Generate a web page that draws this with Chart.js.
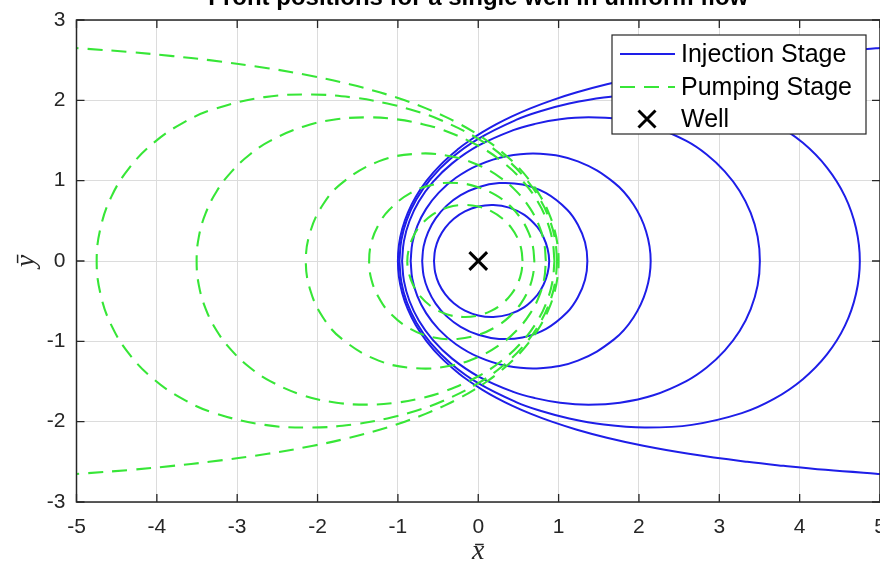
<!DOCTYPE html>
<html>
<head>
<meta charset="utf-8">
<title>Front positions for a single well in uniform flow</title>
<script src="https://cdn.jsdelivr.net/npm/chart.js@4.4.0/dist/chart.umd.min.js"></script>
<style>
  html, body { margin: 0; padding: 0; background: #fff; width: 880px; height: 567px; overflow: hidden; }
  #wrap { position: absolute; left: 0; top: -20px; width: 920px; height: 600px; }
  canvas { display: block; }
</style>
</head>
<body>
<div id="wrap"><canvas id="fronts" width="920" height="600"></canvas></div>
<script>
// Axis ticks
const xTickValues = [-5, -4, -3, -2, -1, 0, 1, 2, 3, 4, 5];
const xTickLabels = ['-5', '-4', '-3', '-2', '-1', '0', '1', '2', '3', '4', '5'];
const yTickValues = [-3, -2, -1, 0, 1, 2, 3];
const yTickLabels = ['-3', '-2', '-1', '0', '1', '2', '3'];

const seriesNames = ['Injection Stage', 'Pumping Stage', 'Well'];
const titleText = 'Front positions for a single well in uniform flow';

// Well location
const wellPosition = [[0, 0]];

// Injection fronts, [x̄, ȳ] around the well, smallest to largest
const injectionFrontA = [[-0.551,0],[-0.536,0.144],[-0.49,0.283],[-0.412,0.412],[-0.304,0.526],[-0.166,0.618],[0,0.678],[0.187,0.697],[0.384,0.665],[0.574,0.574],[0.734,0.424],[0.812,0.296],[0.863,0.152],[0.883,0],[0.863,-0.152],[0.812,-0.296],[0.734,-0.424],[0.574,-0.574],[0.384,-0.665],[0.187,-0.697],[0,-0.678],[-0.166,-0.618],[-0.304,-0.526],[-0.412,-0.412],[-0.49,-0.283],[-0.536,-0.144],[-0.551,0]];
const injectionFrontB = [[-0.698,0],[-0.68,0.182],[-0.624,0.36],[-0.53,0.53],[-0.396,0.686],[-0.219,0.819],[0,0.919],[0.26,0.97],[0.55,0.952],[0.845,0.845],[1.107,0.639],[1.24,0.452],[1.329,0.234],[1.358,0],[1.329,-0.234],[1.24,-0.452],[1.107,-0.639],[0.845,-0.845],[0.55,-0.952],[0.26,-0.97],[0,-0.919],[-0.219,-0.819],[-0.396,-0.686],[-0.53,-0.53],[-0.624,-0.36],[-0.68,-0.182],[-0.698,0]];
const injectionFrontC = [[-0.841,0],[-0.821,0.22],[-0.758,0.437],[-0.649,0.649],[-0.491,0.851],[-0.278,1.036],[0,1.194],[0.35,1.305],[0.771,1.335],[1.24,1.24],[1.69,0.976],[1.932,0.703],[2.089,0.368],[2.146,0],[2.089,-0.368],[1.932,-0.703],[1.69,-0.976],[1.24,-1.24],[0.771,-1.335],[0.35,-1.305],[0,-1.194],[-0.278,-1.036],[-0.491,-0.851],[-0.649,-0.649],[-0.758,-0.437],[-0.821,-0.22],[-0.841,0]];
const injectionFrontD = [[-0.948,0],[-0.925,0.248],[-0.857,0.495],[-0.74,0.74],[-0.566,0.981],[-0.325,1.215],[0,1.435],[0.436,1.629],[0.707,1.707],[1.019,1.764],[1.372,1.788],[1.764,1.764],[2.179,1.672],[2.59,1.495],[2.843,1.326],[3.067,1.116],[3.253,0.872],[3.391,0.598],[3.477,0.304],[3.505,0],[3.477,-0.304],[3.391,-0.598],[3.253,-0.872],[3.067,-1.116],[2.843,-1.326],[2.59,-1.495],[2.179,-1.672],[1.764,-1.764],[1.372,-1.788],[1.019,-1.764],[0.707,-1.707],[0.436,-1.629],[0,-1.435],[-0.325,-1.215],[-0.566,-0.981],[-0.74,-0.74],[-0.857,-0.495],[-0.925,-0.248],[-0.948,0]];
const injectionFrontE = [[-0.981,0],[-0.958,0.257],[-0.889,0.513],[-0.769,0.769],[-0.591,1.023],[-0.342,1.275],[0,1.521],[0.47,1.756],[0.772,1.864],[1.132,1.96],[1.562,2.036],[2.073,2.073],[2.658,2.04],[3.28,1.894],[3.68,1.717],[4.04,1.471],[4.34,1.163],[4.564,0.805],[4.701,0.411],[4.749,0],[4.701,-0.411],[4.564,-0.805],[4.34,-1.163],[4.04,-1.471],[3.68,-1.717],[3.28,-1.894],[2.658,-2.04],[2.073,-2.073],[1.562,-2.036],[1.132,-1.96],[0.772,-1.864],[0.47,-1.756],[0,-1.521],[-0.342,-1.275],[-0.591,-1.023],[-0.769,-0.769],[-0.889,-0.513],[-0.958,-0.257],[-0.981,0]];
const injectionFrontF = [[5.16,2.66],[4.95,2.647],[4.322,2.6],[3.801,2.55],[3.347,2.5],[2.62,2.4],[2.055,2.3],[1.601,2.2],[1.228,2.1],[0.915,2.0],[0.649,1.9],[0.42,1.8],[0.221,1.7],[0.047,1.6],[-0.106,1.5],[-0.242,1.4],[-0.467,1.2],[-0.642,1.0],[-0.777,0.8],[-0.877,0.6],[-0.946,0.4],[-0.987,0.2],[-1.0,0],[-0.987,-0.2],[-0.946,-0.4],[-0.877,-0.6],[-0.777,-0.8],[-0.642,-1.0],[-0.467,-1.2],[-0.242,-1.4],[-0.106,-1.5],[0.047,-1.6],[0.221,-1.7],[0.42,-1.8],[0.649,-1.9],[0.915,-2.0],[1.228,-2.1],[1.601,-2.2],[2.055,-2.3],[2.62,-2.4],[3.347,-2.5],[3.801,-2.55],[4.322,-2.6],[4.95,-2.647],[5.16,-2.66]];

// Pumping fronts, [x̄, ȳ], smallest to largest
const pumpingFrontA = [[0.551,0],[0.536,0.144],[0.49,0.283],[0.412,0.412],[0.304,0.526],[0.166,0.618],[0,0.678],[-0.187,0.697],[-0.384,0.665],[-0.574,0.574],[-0.734,0.424],[-0.812,0.296],[-0.863,0.152],[-0.883,0],[-0.863,-0.152],[-0.812,-0.296],[-0.734,-0.424],[-0.574,-0.574],[-0.384,-0.665],[-0.187,-0.697],[0,-0.678],[0.166,-0.618],[0.304,-0.526],[0.412,-0.412],[0.49,-0.283],[0.536,-0.144],[0.551,0]];
const pumpingFrontB = [[0.698,0],[0.68,0.182],[0.624,0.36],[0.53,0.53],[0.396,0.686],[0.219,0.819],[0,0.919],[-0.26,0.97],[-0.55,0.952],[-0.845,0.845],[-1.107,0.639],[-1.24,0.452],[-1.329,0.234],[-1.358,0],[-1.329,-0.234],[-1.24,-0.452],[-1.107,-0.639],[-0.845,-0.845],[-0.55,-0.952],[-0.26,-0.97],[0,-0.919],[0.219,-0.819],[0.396,-0.686],[0.53,-0.53],[0.624,-0.36],[0.68,-0.182],[0.698,0]];
const pumpingFrontC = [[0.841,0],[0.821,0.22],[0.758,0.437],[0.649,0.649],[0.491,0.851],[0.278,1.036],[0,1.194],[-0.35,1.305],[-0.771,1.335],[-1.24,1.24],[-1.69,0.976],[-1.932,0.703],[-2.089,0.368],[-2.146,0],[-2.089,-0.368],[-1.932,-0.703],[-1.69,-0.976],[-1.24,-1.24],[-0.771,-1.335],[-0.35,-1.305],[0,-1.194],[0.278,-1.036],[0.491,-0.851],[0.649,-0.649],[0.758,-0.437],[0.821,-0.22],[0.841,0]];
const pumpingFrontD = [[0.948,0],[0.925,0.248],[0.857,0.495],[0.74,0.74],[0.566,0.981],[0.325,1.215],[0,1.435],[-0.436,1.629],[-0.707,1.707],[-1.019,1.764],[-1.372,1.788],[-1.764,1.764],[-2.179,1.672],[-2.59,1.495],[-2.843,1.326],[-3.067,1.116],[-3.253,0.872],[-3.391,0.598],[-3.477,0.304],[-3.505,0],[-3.477,-0.304],[-3.391,-0.598],[-3.253,-0.872],[-3.067,-1.116],[-2.843,-1.326],[-2.59,-1.495],[-2.179,-1.672],[-1.764,-1.764],[-1.372,-1.788],[-1.019,-1.764],[-0.707,-1.707],[-0.436,-1.629],[0,-1.435],[0.325,-1.215],[0.566,-0.981],[0.74,-0.74],[0.857,-0.495],[0.925,-0.248],[0.948,0]];
const pumpingFrontE = [[0.981,0],[0.958,0.257],[0.889,0.513],[0.769,0.769],[0.591,1.023],[0.342,1.275],[0,1.521],[-0.47,1.756],[-0.772,1.864],[-1.132,1.96],[-1.562,2.036],[-2.073,2.073],[-2.658,2.04],[-3.28,1.894],[-3.68,1.717],[-4.04,1.471],[-4.34,1.163],[-4.564,0.805],[-4.701,0.411],[-4.749,0],[-4.701,-0.411],[-4.564,-0.805],[-4.34,-1.163],[-4.04,-1.471],[-3.68,-1.717],[-3.28,-1.894],[-2.658,-2.04],[-2.073,-2.073],[-1.562,-2.036],[-1.132,-1.96],[-0.772,-1.864],[-0.47,-1.756],[0,-1.521],[0.342,-1.275],[0.591,-1.023],[0.769,-0.769],[0.889,-0.513],[0.958,-0.257],[0.981,0]];
const pumpingFrontF = [[-5.16,2.66],[-4.95,2.647],[-4.322,2.6],[-3.801,2.55],[-3.347,2.5],[-2.62,2.4],[-2.055,2.3],[-1.601,2.2],[-1.228,2.1],[-0.915,2.0],[-0.649,1.9],[-0.42,1.8],[-0.221,1.7],[-0.047,1.6],[0.106,1.5],[0.242,1.4],[0.467,1.2],[0.642,1.0],[0.777,0.8],[0.877,0.6],[0.946,0.4],[0.987,0.2],[1.0,0],[0.987,-0.2],[0.946,-0.4],[0.877,-0.6],[0.777,-0.8],[0.642,-1.0],[0.467,-1.2],[0.242,-1.4],[0.106,-1.5],[-0.047,-1.6],[-0.221,-1.7],[-0.42,-1.8],[-0.649,-1.9],[-0.915,-2.0],[-1.228,-2.1],[-1.601,-2.2],[-2.055,-2.3],[-2.62,-2.4],[-3.347,-2.5],[-3.801,-2.55],[-4.322,-2.6],[-4.95,-2.647],[-5.16,-2.66]];

const injectionFronts = [injectionFrontA, injectionFrontB, injectionFrontC, injectionFrontD, injectionFrontE, injectionFrontF];
const pumpingFronts = [pumpingFrontA, pumpingFrontB, pumpingFrontC, pumpingFrontD, pumpingFrontE, pumpingFrontF];

// Styles
const BLUE = 'rgb(30,30,232)';
const GREEN = 'rgb(55,230,55)';
const DASH = [15, 9];
const INK = '#262626';
const SANS = '"Liberation Sans", Arial, Helvetica, sans-serif';

const toPoints = arr => arr.map(([x, y]) => ({ x, y }));

const datasets = [];
datasets.push({
  label: seriesNames[2],
  data: toPoints(wellPosition),
  showLine: false,
  pointStyle: 'crossRot',
  pointRadius: 12.5,
  pointBorderWidth: 3,
  borderColor: '#000',
  backgroundColor: '#000'
});
pumpingFronts.forEach(f => datasets.push({
  label: seriesNames[1],
  data: toPoints(f),
  showLine: true,
  borderColor: GREEN,
  borderWidth: 2.1,
  borderDash: DASH,
  pointRadius: 0,
  tension: 0.4,
  fill: false
}));
injectionFronts.forEach(f => datasets.push({
  label: seriesNames[0],
  data: toPoints(f),
  showLine: true,
  borderColor: BLUE,
  borderWidth: 2,
  pointRadius: 0,
  tension: 0.4,
  fill: false
}));

// Axes box, inward ticks, tick labels, axis labels, title and legend
const decorations = {
  id: 'decorations',
  afterDatasetsDraw(chart) {
    const { ctx, chartArea: a, scales } = chart;
    const sx = scales.x, sy = scales.y;
    ctx.save();

    // box and ticks
    ctx.strokeStyle = INK;
    ctx.lineWidth = 1.5;
    ctx.strokeRect(a.left, a.top, a.right - a.left, a.bottom - a.top);
    ctx.lineWidth = 1.3;
    ctx.beginPath();
    xTickValues.forEach(v => {
      const px = sx.getPixelForValue(v);
      ctx.moveTo(px, a.bottom); ctx.lineTo(px, a.bottom - 8);
      ctx.moveTo(px, a.top); ctx.lineTo(px, a.top + 8);
    });
    yTickValues.forEach(v => {
      const py = sy.getPixelForValue(v);
      ctx.moveTo(a.left, py); ctx.lineTo(a.left + 8, py);
      ctx.moveTo(a.right, py); ctx.lineTo(a.right - 8, py);
    });
    ctx.stroke();

    // tick labels
    ctx.fillStyle = INK;
    ctx.font = '21px ' + SANS;
    ctx.textAlign = 'center';
    ctx.textBaseline = 'middle';
    xTickValues.forEach((v, i) => ctx.fillText(xTickLabels[i], sx.getPixelForValue(v), a.bottom + 25));
    ctx.textAlign = 'right';
    yTickValues.forEach((v, i) => ctx.fillText(yTickLabels[i], a.left - 11, sy.getPixelForValue(v)));

    // axis labels
    ctx.font = 'italic 28px "Liberation Serif", "DejaVu Serif", serif';
    ctx.textAlign = 'center';
    ctx.fillText('x\u0304', (a.left + a.right) / 2, a.bottom + 50);
    ctx.save();
    ctx.translate(27, sy.getPixelForValue(0));
    ctx.rotate(-Math.PI / 2);
    ctx.fillText('y\u0304', 0, 0);
    ctx.restore();

    // title
    ctx.fillStyle = '#000';
    ctx.font = 'bold 24px ' + SANS;
    ctx.textAlign = 'center';
    ctx.textBaseline = 'alphabetic';
    ctx.fillText(titleText, (a.left + a.right) / 2, a.top - 15);

    // legend
    const lx = 612, ly = a.top + 15, lw = 254, lh = 99;
    ctx.fillStyle = '#fff';
    ctx.fillRect(lx, ly, lw, lh);
    ctx.strokeStyle = INK;
    ctx.lineWidth = 1.2;
    ctx.strokeRect(lx, ly, lw, lh);
    const rows = [ly + 19, ly + 52, ly + 84];
    ctx.lineWidth = 2;
    ctx.strokeStyle = BLUE;
    ctx.beginPath(); ctx.moveTo(620, rows[0]); ctx.lineTo(675, rows[0]); ctx.stroke();
    ctx.lineWidth = 2.1;
    ctx.strokeStyle = GREEN;
    ctx.setLineDash(DASH);
    ctx.beginPath(); ctx.moveTo(620, rows[1]); ctx.lineTo(675, rows[1]); ctx.stroke();
    ctx.setLineDash([]);
    ctx.strokeStyle = '#000';
    ctx.lineWidth = 3;
    ctx.beginPath();
    ctx.moveTo(647 - 8.5, rows[2] - 8.5); ctx.lineTo(647 + 8.5, rows[2] + 8.5);
    ctx.moveTo(647 - 8.5, rows[2] + 8.5); ctx.lineTo(647 + 8.5, rows[2] - 8.5);
    ctx.stroke();
    ctx.fillStyle = '#000';
    ctx.font = '25px ' + SANS;
    ctx.textAlign = 'left';
    ctx.textBaseline = 'middle';
    seriesNames.forEach((name, i) => ctx.fillText(name, 681, rows[i] + 1));

    ctx.restore();
  }
};

new Chart(document.getElementById('fronts'), {
  type: 'scatter',
  data: { datasets },
  options: {
    responsive: false,
    animation: false,
    layout: { padding: { left: 0, right: 40, top: 40, bottom: 28 } },
    plugins: { legend: { display: false }, title: { display: false }, tooltip: { enabled: false } },
    scales: {
      x: {
        type: 'linear', min: -5, max: 5,
        ticks: { display: false, stepSize: 1 },
        grid: { color: '#dcdcdc', lineWidth: 1, drawTicks: false },
        border: { display: false },
        afterFit(s) { s.height = 50; }
      },
      y: {
        type: 'linear', min: -3, max: 3,
        ticks: { display: false, stepSize: 1 },
        grid: { color: '#dcdcdc', lineWidth: 1, drawTicks: false },
        border: { display: false },
        afterFit(s) { s.width = 76.5; }
      }
    }
  },
  plugins: [decorations]
});
</script>
</body>
</html>
